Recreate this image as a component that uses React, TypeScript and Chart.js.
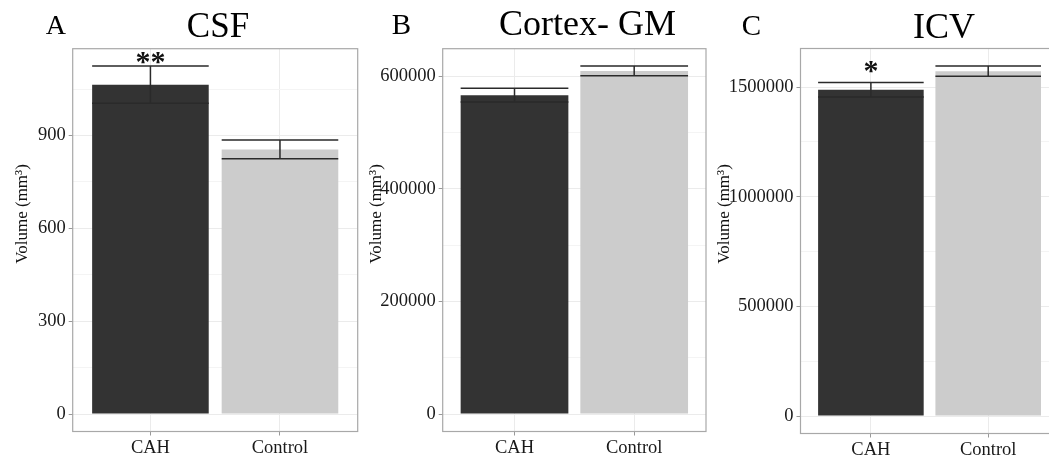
import React, { useEffect, useRef } from "react";
import { Chart, registerables } from "chart.js";

Chart.register(...registerables);

// ---------- data ----------
const groups = ["CAH", "Control"];
const barColors = ["#333333", "#cccccc"];

const csfMeans = [1064, 855];
const csfSE = [60, 30];
const csfStars = ["**", ""];
const csfTicks = [0, 300, 600, 900];

const gmMeans = [566000, 609000];
const gmSE = [12200, 8600];
const gmStars = ["", ""];
const gmTicks = [0, 200000, 400000, 600000];

const icvMeans = [1488000, 1573000];
const icvSE = [33000, 23500];
const icvStars = ["*", ""];
const icvTicks = [0, 500000, 1000000, 1500000];

const yLabel = "Volume (mm³)";

const SERIF = '"Liberation Serif", "Times New Roman", serif';

type Panel = {
  letter: string;
  title: string;
  means: number[];
  se: number[];
  stars: string[];
  ticks: number[];
  // layout (page coords)
  canvasLeft: number;
  canvasWidth: number;
  areaLeft: number;
  areaRight: number;
  areaTop: number;
  areaBottom: number;
  titleX: number;
  titleY: number;
  titleSize: number;
  letterX: number;
  letterY: number;
  letterSize: number;
  yLabelX: number;
  starGap: number;
};

const H = 463;

const panels: Panel[] = [
  {
    letter: "A", title: "CSF", means: csfMeans, se: csfSE, stars: csfStars, ticks: csfTicks,
    canvasLeft: 0, canvasWidth: 362, areaLeft: 72.7, areaRight: 357.7, areaTop: 48.7, areaBottom: 431.5,
    titleX: 218, titleY: 37.3, titleSize: 35, letterX: 45.7, letterY: 34, letterSize: 28, yLabelX: 23, starGap: 2,
  },
  {
    letter: "B", title: "Cortex- GM", means: gmMeans, se: gmSE, stars: gmStars, ticks: gmTicks,
    canvasLeft: 362, canvasWidth: 348, areaLeft: 442.7, areaRight: 706, areaTop: 48.7, areaBottom: 431.5,
    titleX: 587.5, titleY: 35, titleSize: 36, letterX: 391.7, letterY: 33.5, letterSize: 29, yLabelX: 377, starGap: 2,
  },
  {
    letter: "C", title: "ICV", means: icvMeans, se: icvSE, stars: icvStars, ticks: icvTicks,
    canvasLeft: 710, canvasWidth: 360, areaLeft: 800.5, areaRight: 1058.6, areaTop: 48.5, areaBottom: 433.5,
    titleX: 944, titleY: 38, titleSize: 36, letterX: 741.7, letterY: 35, letterSize: 29, yLabelX: 725, starGap: 9.5,
  },
];

function makeChart(canvas: HTMLCanvasElement, p: Panel) {
  const top = Math.max(...p.means.map((m, i) => m + p.se[i]));
  const pad = top * 0.05;
  const step = p.ticks[1] - p.ticks[0];
  const allTicks: number[] = [];
  for (let v = 0; v <= top + pad; v += step / 2) allTicks.push(v);
  const isMajor = (v: number) => p.ticks.includes(v);

  const decor = {
    id: "decor" + p.letter,
    afterDatasetsDraw(chart: any) {
      const ctx = chart.ctx as CanvasRenderingContext2D;
      const xs = chart.scales.x;
      const ys = chart.scales.y;
      const meta = chart.getDatasetMeta(0);
      ctx.save();
      ctx.strokeStyle = "#2a2a2a";
      ctx.lineWidth = 1.5;
      p.means.forEach((m, i) => {
        const cx = xs.getPixelForValue(i + 1);
        const hw = meta.data[i].width / 2;
        const yt = ys.getPixelForValue(m + p.se[i]);
        const yb = ys.getPixelForValue(m - p.se[i]);
        ctx.beginPath();
        ctx.moveTo(cx - hw, yt);
        ctx.lineTo(cx + hw, yt);
        ctx.moveTo(cx - hw, yb);
        ctx.lineTo(cx + hw, yb);
        ctx.moveTo(cx, yt);
        ctx.lineTo(cx, yb);
        ctx.stroke();
        const s = p.stars[i];
        if (s) {
          ctx.font = `bold 30px ${SERIF}`;
          ctx.fillStyle = "#111";
          ctx.textAlign = "center";
          ctx.textBaseline = "alphabetic";
          const mt = ctx.measureText(s);
          const base = yt - p.starGap - mt.actualBoundingBoxDescent;
          ctx.fillText(s, cx, base);
        }
      });
      ctx.restore();
    },
    afterDraw(chart: any) {
      const ctx = chart.ctx as CanvasRenderingContext2D;
      const a = chart.chartArea;
      const off = p.canvasLeft;
      ctx.save();
      ctx.strokeStyle = "#a8a8a8";
      ctx.lineWidth = 1.2;
      ctx.strokeRect(a.left, a.top, a.right - a.left, a.bottom - a.top);
      ctx.fillStyle = "#000";
      ctx.textBaseline = "alphabetic";
      ctx.textAlign = "left";
      ctx.font = `${p.letterSize}px ${SERIF}`;
      ctx.fillText(p.letter, p.letterX - off, p.letterY);
      ctx.textAlign = "center";
      ctx.font = `${p.titleSize}px ${SERIF}`;
      ctx.fillText(p.title, p.titleX - off, p.titleY);
      ctx.translate(p.yLabelX - off, 214);
      ctx.rotate(-Math.PI / 2);
      ctx.font = `17px ${SERIF}`;
      ctx.fillStyle = "#111";
      ctx.textBaseline = "middle";
      ctx.fillText(yLabel, 0, 0);
      ctx.restore();
    },
  };

  return new Chart(canvas, {
    type: "bar",
    data: {
      datasets: [
        {
          data: p.means.map((m, i) => ({ x: i + 1, y: m })) as any,
          backgroundColor: barColors,
          borderWidth: 0,
          categoryPercentage: 1,
          barPercentage: 0.9,
        },
      ],
    },
    options: {
      responsive: false,
      animation: false,
      devicePixelRatio: 1,
      layout: {
        padding: { left: 0, top: p.areaTop, right: p.canvasWidth - (p.areaRight - p.canvasLeft), bottom: 0 },
      },
      plugins: { legend: { display: false }, tooltip: { enabled: false }, title: { display: false } },
      scales: {
        x: {
          type: "linear",
          min: 0.4,
          max: 2.6,
          offset: false,
          afterBuildTicks: (s: any) => {
            s.ticks = groups.map((_, i) => ({ value: i + 1 }));
          },
          afterFit: (s: any) => {
            s.height = H - p.areaBottom;
          },
          ticks: {
            autoSkip: false,
            maxRotation: 0,
            padding: 2,
            color: "#1a1a1a",
            font: { family: SERIF, size: 18.5 },
            callback: (v: any) => groups[Math.round(v) - 1] ?? "",
          },
          grid: { offset: false, color: "#ebebeb", tickColor: "#999", tickLength: 4, lineWidth: 1 },
          border: { display: false },
        },
        y: {
          type: "linear",
          min: -pad,
          max: top + pad,
          afterBuildTicks: (s: any) => {
            s.ticks = allTicks.map((v) => ({ value: v }));
          },
          afterFit: (s: any) => {
            s.width = p.areaLeft - p.canvasLeft;
          },
          ticks: {
            autoSkip: false,
            padding: 3,
            color: "#1a1a1a",
            font: { family: SERIF, size: 18.5 },
            callback: (v: any) => (isMajor(v) ? String(v) : ""),
          },
          grid: {
            color: (c: any) => (isMajor(c.tick?.value) ? "#ebebeb" : "#f4f4f4"),
            tickColor: (c: any) => (isMajor(c.tick?.value) ? "#999" : "rgba(0,0,0,0)"),
            tickLength: 4,
            lineWidth: 1,
          },
          border: { display: false },
        },
      },
    } as any,
    plugins: [decor],
  });
}

function PanelChart({ p }: { p: Panel }) {
  const ref = useRef<HTMLCanvasElement | null>(null);
  useEffect(() => {
    if (!ref.current) return;
    const ch = makeChart(ref.current, p);
    return () => ch.destroy();
  }, [p]);
  return (
    <canvas
      ref={ref}
      width={p.canvasWidth}
      height={H}
      style={{ position: "absolute", left: p.canvasLeft, top: 0, width: p.canvasWidth, height: H }}
    />
  );
}

export default function App() {
  return (
    <div
      style={{
        position: "fixed",
        left: 0,
        top: 0,
        width: 1049,
        height: H,
        overflow: "hidden",
        background: "#fff",
      }}
    >
      {panels.map((p) => (
        <PanelChart key={p.letter} p={p} />
      ))}
    </div>
  );
}
